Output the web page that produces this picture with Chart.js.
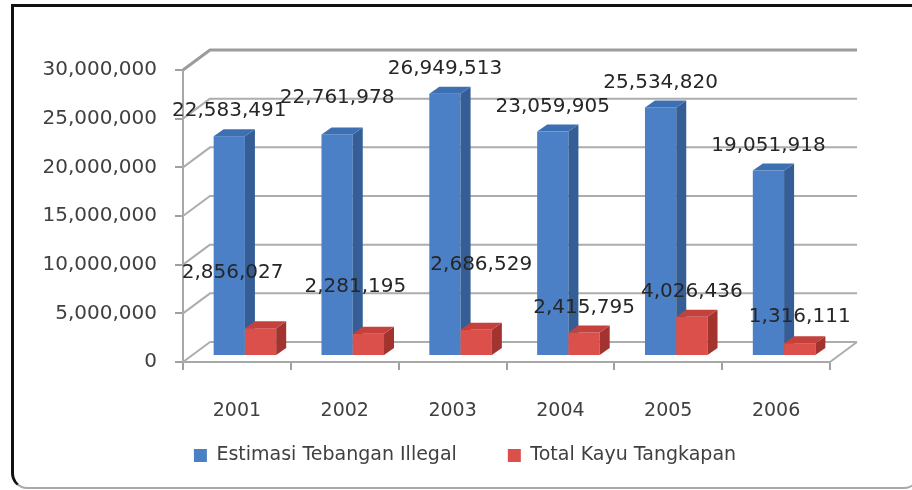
<!DOCTYPE html>
<html lang="id">
<head>
<meta charset="UTF-8">
<title>Estimasi Tebangan Illegal dan Total Kayu Tangkapan</title>
<script src="https://cdn.jsdelivr.net/npm/chart.js"></script>
<style>
    body {
        margin: 0;
        background: #fff;
        overflow: hidden;
    }
    .frame {
        position: absolute;
        left: 11px;
        top: 4px;
        width: 904px;
        height: 480px;
        border-left: 3px solid #111;
        border-top: 3px solid #111;
        border-right: 2px solid #aaa;
        border-bottom: 2px solid #aaa;
        border-radius: 0 0 16px 16px;
    }
    .chart-container {
        position: absolute;
        left: 0;
        top: 0;
        width: 912px;
        height: 490px;
    }
</style>
</head>
<body>

<div class="frame"></div>
<div class="chart-container">
    <canvas id="kayuChart"></canvas>
</div>

<script>
const years = ['2001', '2002', '2003', '2004', '2005', '2006'];
const estimasiTebangan = [22583491, 22761978, 26949513, 23059905, 25534820, 19051918];
const totalTangkapan = [2856027, 2281195, 2686529, 2415795, 4026436, 1316111];
const yTickValues = [0, 5000000, 10000000, 15000000, 20000000, 25000000, 30000000];

const FAMILY = '"DejaVu Sans", sans-serif';
const SMALL = { family: FAMILY, size: 19 };
const LARGE = { family: FAMILY, size: 20 };

// fake perspective: back wall offset, bar placement in depth, bar thickness
const WALL_DX = 27, WALL_DY = -20;
const BAR_DX = 8, BAR_DY = -6;
const SIDE_DX = 10, SIDE_DY = -7;

const faceColors = [
    { front: '#4b80c6', side: '#345e95', top: '#3d70b3' },
    { front: '#dc504b', side: '#a3332f', top: '#c4413c' }
];

// value labels are shifted where they would collide
const labelNudge = [
    [[0, 0], [0, -12], [0, 0], [0, 0], [0, 0], [0, 0]],
    [[-28, -30], [-13, -22], [5, -40], [0, 0], [0, 0], [0, -1]]
];

const fmt = v => v.toLocaleString('en-US');

function drawBox(ctx, bar, c) {
    const { x, y, base, width } = bar.getProps(['x', 'y', 'base', 'width'], true);
    const l = x - width / 2, r = x + width / 2;
    ctx.fillStyle = c.front;
    ctx.fillRect(l, y, width, base - y);
    ctx.fillStyle = c.side;
    ctx.beginPath();
    ctx.moveTo(r, y);
    ctx.lineTo(r + SIDE_DX, y + SIDE_DY);
    ctx.lineTo(r + SIDE_DX, base + SIDE_DY);
    ctx.lineTo(r, base);
    ctx.closePath();
    ctx.fill();
    ctx.fillStyle = c.top;
    ctx.beginPath();
    ctx.moveTo(l, y);
    ctx.lineTo(l + SIDE_DX, y + SIDE_DY);
    ctx.lineTo(r + SIDE_DX, y + SIDE_DY);
    ctx.lineTo(r, y);
    ctx.closePath();
    ctx.fill();
}

const walls3d = {
    id: 'walls3d',
    beforeInit(chart) {
        // fixed legend height so the x labels get room
        const fit = chart.legend.fit;
        chart.legend.fit = function () {
            fit.call(this);
            this.height = 66;
        };
    },
    afterLayout(chart) {
        // move the legend box to sit under the plot, a bit right of centre
        const lg = chart.legend;
        lg.left += 50; lg.right += 50;
        lg.top = 395; lg.bottom = 485; lg.height = 90;
    },
    beforeDatasetsDraw(chart) {
        const { ctx, chartArea: a, scales: { y } } = chart;
        const metas = chart.data.datasets.map((ds, i) => chart.getDatasetMeta(i));

        ctx.save();
        ctx.lineJoin = 'round';
        y.ticks.forEach(t => {
            const py = y.getPixelForValue(t.value);
            const isTop = t.value === y.max;
            ctx.strokeStyle = isTop ? '#9c9c9c' : '#adadad';
            ctx.lineWidth = isTop ? 3 : 2;
            ctx.beginPath();
            ctx.moveTo(a.left, py);
            ctx.lineTo(a.left + WALL_DX, py + WALL_DY);
            ctx.lineTo(a.right + WALL_DX, py + WALL_DY);
            ctx.stroke();
        });
        // right edge of the floor
        ctx.strokeStyle = '#adadad';
        ctx.lineWidth = 2;
        ctx.beginPath();
        ctx.moveTo(a.right, a.bottom);
        ctx.lineTo(a.right + WALL_DX, a.bottom + WALL_DY);
        ctx.stroke();
        ctx.restore();

        // columns stand a little way back on the floor; draw per year, blue then red
        ctx.save();
        ctx.translate(BAR_DX, BAR_DY);
        years.forEach((yr, j) => {
            metas.forEach((m, i) => drawBox(ctx, m.data[j], faceColors[i]));
        });
        ctx.restore();

        ctx.save();
        ctx.font = `${LARGE.size}px ${LARGE.family}`;
        ctx.fillStyle = '#262626';
        ctx.textAlign = 'center';
        ctx.textBaseline = 'middle';
        chart.data.datasets.forEach((ds, i) => {
            metas[i].data.forEach((bar, j) => {
                const [nx, ny] = labelNudge[i][j];
                ctx.fillText(fmt(ds.data[j]), bar.x + BAR_DX + nx, bar.y + BAR_DY - 25 + ny);
            });
        });
        ctx.restore();

        // the flat default bars are not needed
        return false;
    }
};

new Chart(document.getElementById('kayuChart'), {
    type: 'bar',
    data: {
        labels: years,
        datasets: [{
            label: 'Estimasi Tebangan Illegal',
            data: estimasiTebangan,
            backgroundColor: faceColors[0].front,
            borderWidth: 0
        }, {
            label: 'Total Kayu Tangkapan',
            data: totalTangkapan,
            backgroundColor: faceColors[1].front,
            borderWidth: 0
        }]
    },
    options: {
        responsive: true,
        maintainAspectRatio: false,
        animation: false,
        categoryPercentage: 0.58,
        barPercentage: 1.0,
        layout: {
            padding: { left: 0, right: 82, top: 70, bottom: 0 }
        },
        plugins: {
            tooltip: { enabled: false },
            legend: {
                position: 'bottom',
                labels: {
                    boxWidth: 13,
                    boxHeight: 13,
                    padding: 51,
                    color: '#404040',
                    font: SMALL
                }
            }
        },
        scales: {
            x: {
                afterFit: s => { s.height = 62; },
                grid: {
                    drawOnChartArea: false,
                    tickLength: 8,
                    color: '#a0a0a0',
                    lineWidth: 2,
                    offset: true
                },
                border: { color: '#a8a8a8', width: 2 },
                ticks: { color: '#404040', font: SMALL, padding: 30 }
            },
            y: {
                min: 0,
                max: 30000000,
                afterFit: s => { s.width = 183; },
                afterBuildTicks: s => { s.ticks = yTickValues.map(v => ({ value: v })); },
                grid: {
                    drawOnChartArea: false,
                    tickLength: 8,
                    color: '#a0a0a0',
                    lineWidth: 2
                },
                border: { color: '#a8a8a8', width: 2 },
                ticks: {
                    color: '#404040',
                    font: LARGE,
                    padding: 18,
                    callback: v => fmt(v)
                }
            }
        }
    },
    plugins: [walls3d]
});
</script>

</body>
</html>
